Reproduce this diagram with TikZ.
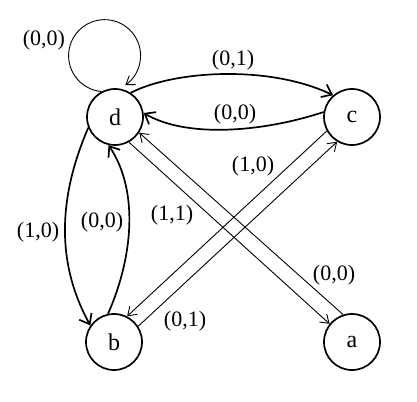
\documentclass[tikz,border=0pt]{standalone}
\usepackage{fontspec}
\setmainfont{Liberation Serif}
\usetikzlibrary{arrows.meta}
\begin{document}
\begin{tikzpicture}[x=1pt,y=-1pt,
  state/.style={circle,draw,line width=1.7pt,minimum size=56pt,inner sep=0pt,font=\fontsize{24}{24}\selectfont},
  thickedge/.style={line width=1.7pt,-{Straight Barb[length=9pt,width=14pt]}},
  thinedge/.style={line width=0.9pt,-{Straight Barb[length=8pt,width=11pt]}},
  lab/.style={font=\fontsize{22}{22}\selectfont,inner sep=0pt}]
\useasboundingbox (0,0) rectangle (417,401);
\node[state] (d) at (115,117) {d};
\node[state] (c) at (352,117) {c};
\node[state] (b) at (114,342) {b};
\node[state] (a) at (352,342) {a};
% loop
\draw[thinedge] (d.118) arc[start angle=-95,end angle=-415,radius=36pt];
\node[lab] (l1) at (44,40) {(0,0)};
% d -> c
\draw[thickedge] (d.57) .. controls (175,70) and (270,65) .. (c.131);
\node[lab] (l2) at (233,60) {(0,1)};
% c -> d
\draw[thickedge] (c.170) .. controls (270,130) and (190,140) .. (d.8);
\node[lab] (l3) at (235,114) {(0,0)};
% d -> b
\draw[thickedge] (d.202) .. controls (57,200) and (57,265) .. (b.145);
\node[lab] (l4) at (38,232) {(1,0)};
% b -> d
\draw[thickedge] (b.102) .. controls (132,260) and (140,192) .. (d.-103);
\node[lab] (l5) at (102,222) {(0,0)};
% d -> a
\draw[thinedge] (d.-61) -- (a.141);
\node[lab] (l6) at (172,215) {(1,1)};
% a -> d
\draw[thinedge] (a.108) -- (d.-33);
\node[lab] (l7) at (334,275) {(0,0)};
% c -> b
\draw[thinedge] (c.209) -- (b.63);
\node[lab] (l8) at (253,166) {(1,0)};
% b -> c
\draw[thinedge] (b.33) -- (c.239);
\node[lab] (l9) at (185,321) {(0,1)};
\end{tikzpicture}
\end{document}
